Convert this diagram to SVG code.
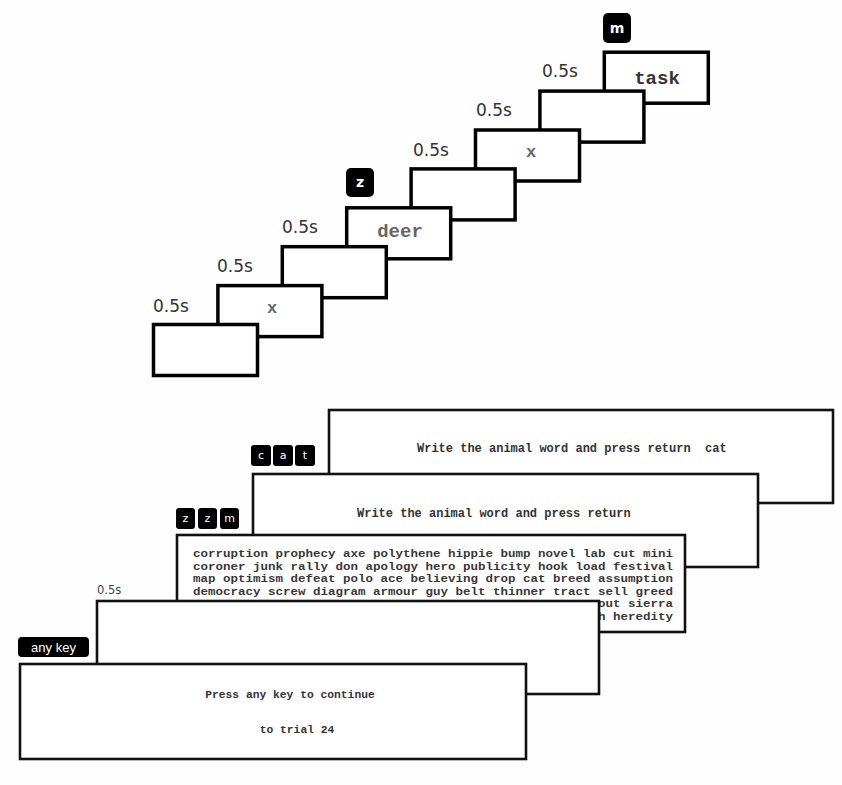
<svg xmlns="http://www.w3.org/2000/svg" width="842" height="785" viewBox="0 0 842 785">
<style>
.bg{fill:#fefefe}
.box{fill:#fff;stroke:#000;stroke-width:3.5}
.scr{fill:#fff;stroke:#111;stroke-width:2.6}
.dur{font-family:"DejaVu Sans",Verdana,sans-serif;font-size:17px;fill:#333}
.dur2{font-family:"DejaVu Sans",Verdana,sans-serif;font-size:11.5px;fill:#444}
.stim{font-family:"Liberation Mono","Courier New",monospace;font-weight:bold;font-size:19px;fill:#555;text-anchor:middle}
.key{fill:#000}
.keyt{font-family:"DejaVu Sans",Verdana,sans-serif;font-weight:bold;font-size:14px;fill:#fff;text-anchor:middle}
.keys{font-family:"DejaVu Sans",Verdana,sans-serif;font-size:11px;fill:#fff;text-anchor:middle}
.mono{font-family:"Liberation Mono","Courier New",monospace;font-weight:bold;font-size:12px;fill:#333}
.list{font-family:"Liberation Mono","Courier New",monospace;font-weight:bold;font-size:10.6px;fill:#383838}
</style>
<rect class="bg" x="0" y="0" width="842" height="785"/>

<!-- top staircase: back to front -->
<g id="step8">
  <rect class="box" x="604.3" y="52.2" width="104" height="51"/>
  <text class="stim" x="657" y="84" style="fill:#333">task</text>
  <rect class="key" x="603" y="13" width="28" height="30" rx="5"/>
  <text class="keyt" x="617" y="33">m</text>
</g>
<g id="step7">
  <rect class="box" x="539.9" y="91.1" width="104" height="51"/>
  <text class="dur" x="542" y="77">0.5s</text>
</g>
<g id="step6">
  <rect class="box" x="475.5" y="130" width="104" height="51"/>
  <text class="stim" x="531" y="157" style="font-size:17px;fill:#666">x</text>
  <text class="dur" x="476" y="116">0.5s</text>
</g>
<g id="step5">
  <rect class="box" x="411.1" y="168.9" width="104" height="51"/>
  <text class="dur" x="413" y="156">0.5s</text>
</g>
<g id="step4">
  <rect class="box" x="346.7" y="207.8" width="104" height="51"/>
  <text class="stim" x="400" y="237" style="fill:#666">deer</text>
  <rect class="key" x="346" y="168" width="28" height="29" rx="5"/>
  <text class="keyt" x="360" y="187">z</text>
</g>
<g id="step3">
  <rect class="box" x="282.3" y="246.7" width="104" height="51"/>
  <text class="dur" x="282" y="233">0.5s</text>
</g>
<g id="step2">
  <rect class="box" x="217.9" y="285.6" width="104" height="51"/>
  <text class="stim" x="272" y="313" style="font-size:17px;fill:#666">x</text>
  <text class="dur" x="217" y="272">0.5s</text>
</g>
<g id="step1">
  <rect class="box" x="153.5" y="324.5" width="104" height="51"/>
  <text class="dur" x="153" y="312">0.5s</text>
</g>

<!-- bottom screens: back to front -->
<g id="screenA">
  <rect class="scr" x="329" y="410" width="504" height="93"/>
  <text class="mono" x="417" y="452" xml:space="preserve">Write the animal word and press return  cat</text>
  <rect class="key" x="251" y="445" width="20" height="21" rx="3"/>
  <rect class="key" x="273" y="445" width="20" height="21" rx="3"/>
  <rect class="key" x="295" y="445" width="20" height="21" rx="3"/>
  <text class="keys" x="261" y="459">c</text>
  <text class="keys" x="283" y="459">a</text>
  <text class="keys" x="305" y="459">t</text>
</g>
<g id="screenB">
  <rect class="scr" x="253" y="474" width="505" height="93"/>
  <text class="mono" x="357" y="517">Write the animal word and press return</text>
  <rect class="key" x="176" y="508" width="19" height="21" rx="3"/>
  <rect class="key" x="198" y="508" width="19" height="21" rx="3"/>
  <rect class="key" x="220" y="508" width="19" height="21" rx="3"/>
  <text class="keys" x="185.5" y="522">z</text>
  <text class="keys" x="207.5" y="522">z</text>
  <text class="keys" x="229.5" y="522">m</text>
</g>
<g id="screenC">
  <rect class="scr" x="177" y="535" width="508" height="97"/>
  <text class="list" x="193" y="557" textLength="480" lengthAdjust="spacingAndGlyphs">corruption prophecy axe polythene hippie bump novel lab cut mini</text>
  <text class="list" x="193" y="569.5" textLength="480" lengthAdjust="spacingAndGlyphs">coroner junk rally don apology hero publicity hook load festival</text>
  <text class="list" x="193" y="582" textLength="480" lengthAdjust="spacingAndGlyphs">map optimism defeat polo ace believing drop cat breed assumption</text>
  <text class="list" x="193" y="594.5" textLength="480" lengthAdjust="spacingAndGlyphs">democracy screw diagram armour guy belt thinner tract sell greed</text>
  <text class="list" x="673" y="607" text-anchor="end" textLength="75" lengthAdjust="spacingAndGlyphs">out sierra</text>
  <text class="list" x="673" y="619.5" text-anchor="end" textLength="75" lengthAdjust="spacingAndGlyphs">h heredity</text>
</g>
<g id="screenD">
  <rect class="scr" x="97" y="601" width="502" height="93"/>
  <text class="dur2" x="97" y="594">0.5s</text>
  <rect class="key" x="18" y="637" width="71" height="20" rx="4"/>
  <text x="53.5" y="652" style="font-family:'Liberation Sans Narrow','Liberation Sans',Arial,sans-serif;font-size:13px;fill:#fff;text-anchor:middle">any key</text>
</g>
<g id="screenE">
  <rect class="scr" x="20" y="664" width="506" height="95"/>
  <text class="mono" x="290" y="698" text-anchor="middle" style="font-size:11.3px">Press any key to continue</text>
  <text class="mono" x="297" y="733" text-anchor="middle" style="font-size:11.3px">to trial 24</text>
</g>
</svg>
